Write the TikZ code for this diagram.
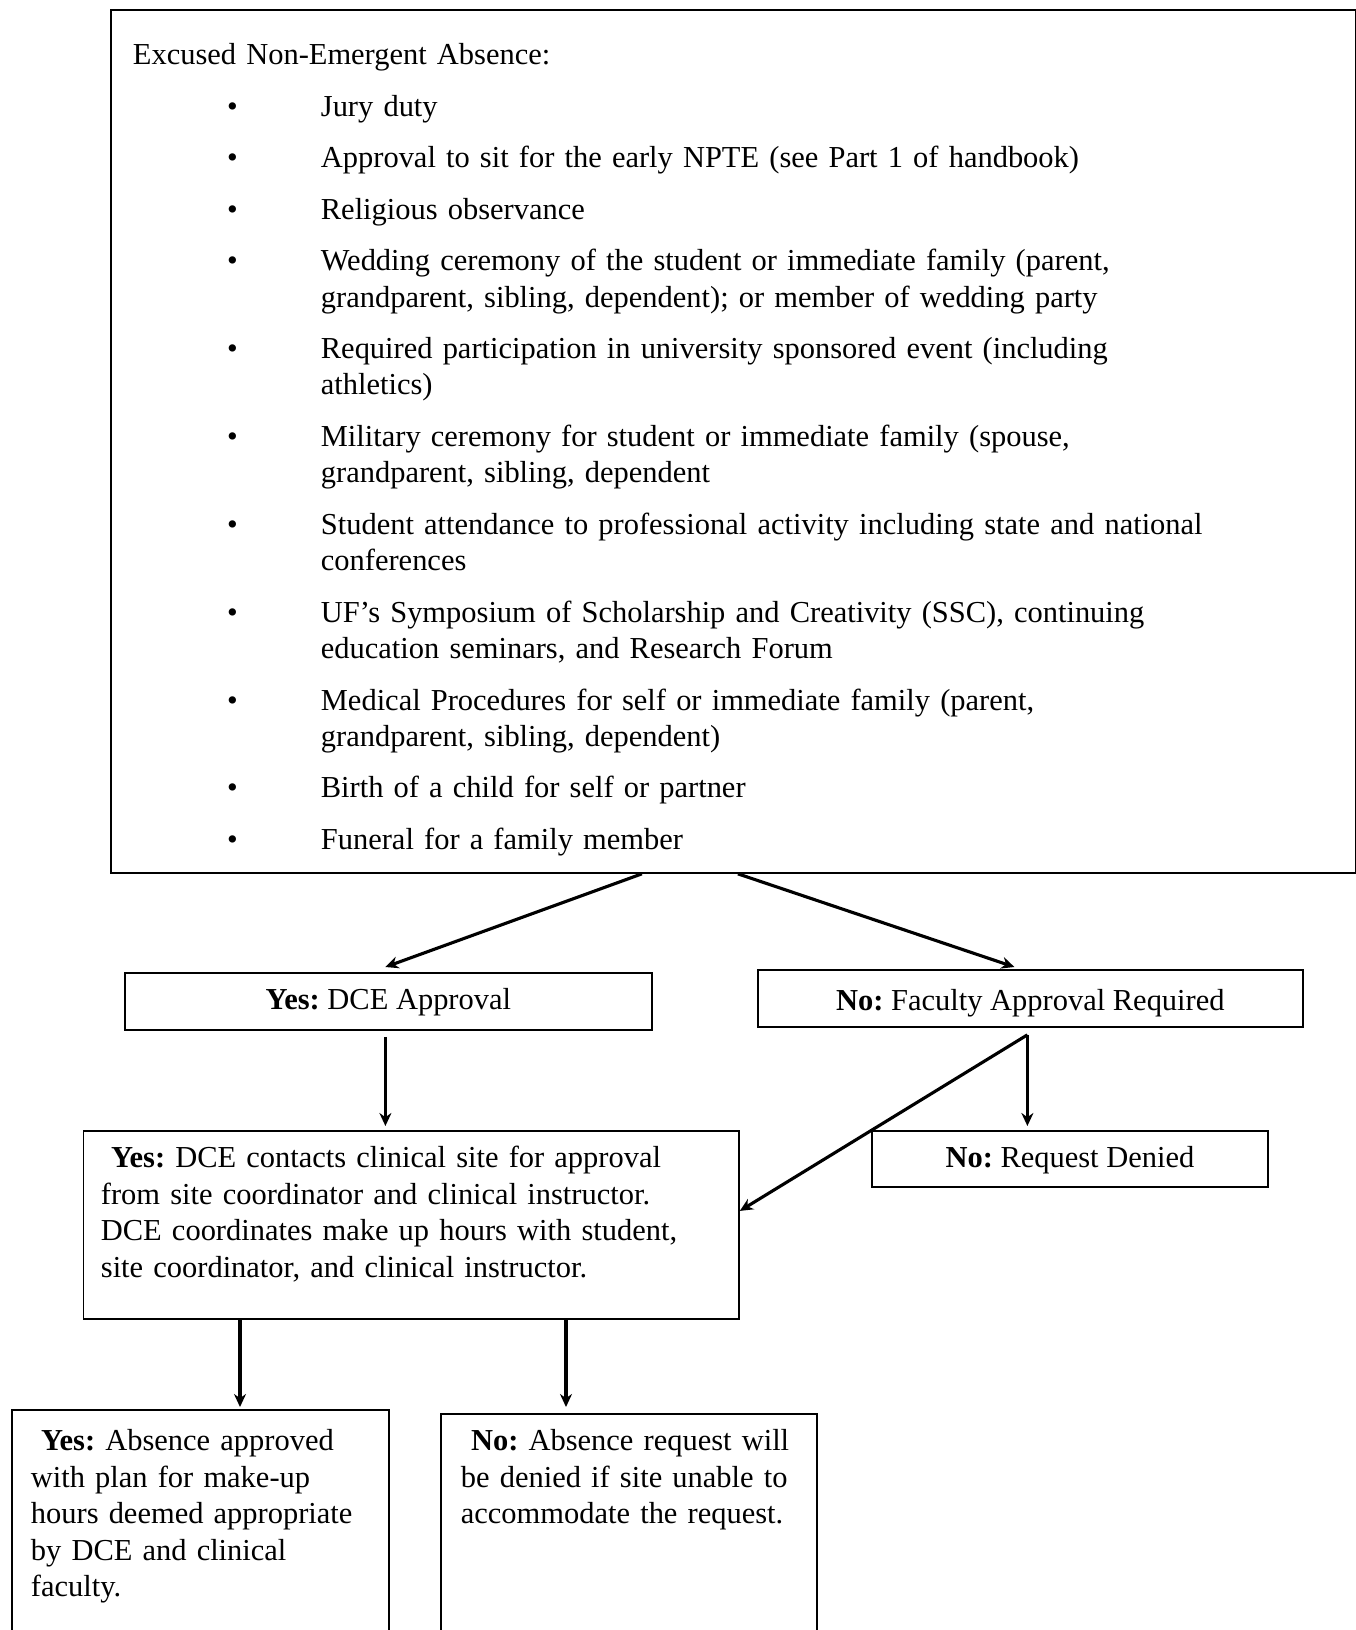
\documentclass[tikz,border=0pt]{standalone}
\usepackage{fontspec}
\setmainfont{Liberation Serif}
\usetikzlibrary{arrows.meta, positioning, calc}

% one pixel of the layout grid
\newcommand{\pix}[1]{\fpeval{#1*0.384}pt}

\begin{document}
\begin{tikzpicture}[x=0.384pt, y=-0.384pt,
    every node/.style={font=\fontsize{11.7}{14}\selectfont\frenchspacing},
    listbox/.style={draw, line width=0.7pt, anchor=north west, align=left,
                    inner ysep=0pt},
    choice/.style={draw, line width=0.7pt, anchor=north west, inner sep=0pt,
                   text height=8.5pt, text depth=2pt},
    arrow/.style={-{Stealth[length=5pt, width=4.6pt]}, line width=1.2pt}
]
    \useasboundingbox (0,0) rectangle (1356,1630);
    \fill[white] (0,0) rectangle (1356,1630);
    \clip (0,0) rectangle (1356,1630);

    % list of excused absences
    \node[listbox, text width=\pix{1201}, inner xsep=\pix{22},
          text height=\pix{55}, text depth=\pix{808}] (absbox) at (110,9) {%
        \setlength{\parskip}{0pt}%
        Excused Non-Emergent Absence:
        \begin{list}{\textbullet}{\setlength{\leftmargin}{\pix{188}}%
            \setlength{\labelsep}{\pix{83}}\setlength{\labelwidth}{\pix{20}}%
            \setlength{\topsep}{5.75pt}\setlength{\partopsep}{0pt}%
            \setlength{\itemsep}{5.75pt}\setlength{\parsep}{0pt}}
          \item Jury duty
          \item Approval to sit for the early NPTE (see Part 1 of handbook)
          \item Religious observance
          \item Wedding ceremony of the student or immediate family (parent,\\
                grandparent, sibling, dependent); or member of wedding party
          \item Required participation in university sponsored event (including\\
                athletics)
          \item Military ceremony for student or immediate family (spouse,\\
                grandparent, sibling, dependent
          \item Student attendance to professional activity including state and national\\
                conferences
          \item UF's Symposium of Scholarship and Creativity (SSC), continuing\\
                education seminars, and Research Forum
          \item Medical Procedures for self or immediate family (parent,\\
                grandparent, sibling, dependent)
          \item Birth of a child for self or partner
          \item Funeral for a family member
        \end{list}};

    % first decision
    \node[choice, minimum width=\pix{527}, minimum height=\pix{57}] (yesdce)
        at (124,972) {\textbf{Yes:} DCE Approval};
    \node[choice, minimum width=\pix{545}, minimum height=\pix{57},
          text height=10.9pt] (facreq)
        at (757,969) {\textbf{No:} Faculty Approval Required};
    \node[choice, minimum width=\pix{396}, minimum height=\pix{56}] (denied)
        at (871,1130) {\textbf{No:} Request Denied};

    % site contact
    \node[listbox, text width=\pix{620.5}, inner xsep=\pix{17.5},
          text height=\pix{37}, text depth=\pix{151}] (dcecontact) at (82.5,1130)
        {~\textbf{Yes:} DCE contacts clinical site for approval\\
         from site coordinator and clinical instructor.\\
         DCE coordinates make up hours with student,\\
         site coordinator, and clinical instructor.};

    % outcomes
    \node[listbox, text width=\pix{339}, inner xsep=\pix{19},
          text height=\pix{41}, text depth=\pix{200}] (yesabs) at (11,1409)
        {\mbox{~\textbf{Yes:} Absence approved}\\
         with plan for make-up\\
         \mbox{hours deemed appropriate}\\
         by DCE and clinical\\
         faculty.};
    \node[listbox, text width=\pix{336}, inner xsep=\pix{20},
          text height=\pix{37}, text depth=\pix{200}] (noabs) at (440,1413)
        {\mbox{~\textbf{No:} Absence request will}\\
         \mbox{be denied if site unable to}\\
         \mbox{accommodate the request.}};

    % connectors
    \draw[arrow] ($(absbox.south)+(-91.5,0)$) -- ($(yesdce.north)+(-3,-5)$);
    \draw[arrow] ($(absbox.south)+(4.5,0)$) -- ($(facreq.north)+(-16,-2)$);
    \draw[arrow] ($(yesdce.south)+(-3,6)$) -- ($(yesdce.south |- dcecontact.north)+(-3,-4)$);
    \coordinate (facfork) at ($(facreq.south)+(-3,7)$);
    \draw[arrow] (facfork) -- ($(facfork |- denied.north)+(0,-4)$);
    \draw[arrow] (facfork) -- ($(dcecontact.east)+(0,-14)$);
    \coordinate (dceleft) at ($(dcecontact.south west)+(157.5,0)$);
    \coordinate (dceright) at ($(dcecontact.south west)+(483.5,0)$);
    \draw[arrow] (dceleft) -- ($(dceleft |- yesabs.north)+(0,-2)$);
    \draw[arrow] (dceright) -- ($(dceright |- noabs.north)+(0,-6)$);
\end{tikzpicture}
\end{document}
